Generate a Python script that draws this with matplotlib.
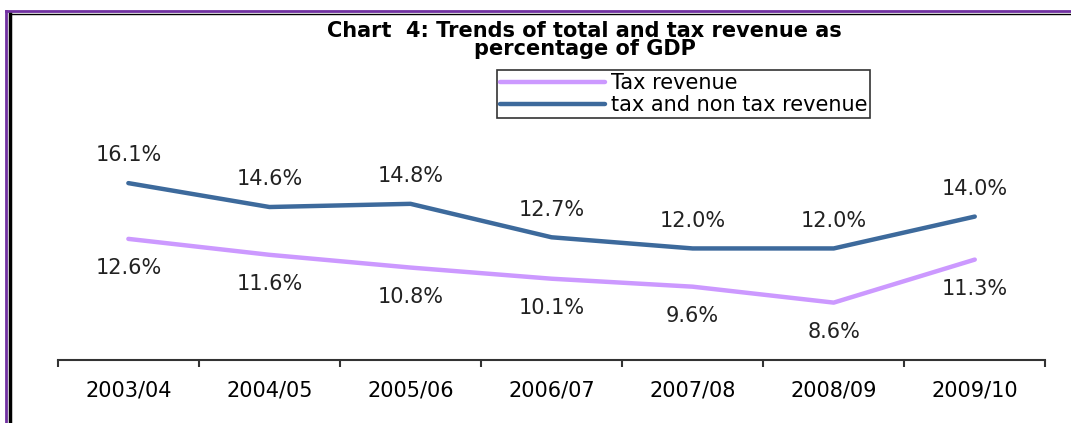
import numpy as np
import matplotlib.pyplot as plt
from matplotlib.lines import Line2D

# data
years = ["2003/04", "2004/05", "2005/06", "2006/07", "2007/08", "2008/09", "2009/10"]
tax_revenue = [12.6, 11.6, 10.8, 10.1, 9.6, 8.6, 11.3]
total_revenue = [16.1, 14.6, 14.8, 12.7, 12.0, 12.0, 14.0]

tax_color = "#CC99FF"
total_color = "#3D6A9C"

fig = plt.figure(figsize=(10.71, 4.23), dpi=100)
ax = fig.add_axes([0.054, 0.149, 0.922, 0.565])

x = np.arange(len(years))
ax.plot(x, tax_revenue, color=tax_color, lw=3.2, label="Tax revenue", solid_capstyle="round")
ax.plot(x, total_revenue, color=total_color, lw=3.2, label="tax and non tax revenue", solid_capstyle="round")

# value labels: total above, tax below
for xi, v in zip(x, total_revenue):
    ax.annotate(f"{v:.1f}%", (xi, v), xytext=(0, 20), textcoords="offset points",
                ha="center", va="center", fontsize=15, color="#222222")
for xi, v in zip(x, tax_revenue):
    ax.annotate(f"{v:.1f}%", (xi, v), xytext=(0, -21), textcoords="offset points",
                ha="center", va="center", fontsize=15, color="#222222")

ax.set_xlim(-0.5, len(years) - 0.5)
ax.set_ylim(5, 20)

# ticks at category boundaries, labels in the middle
ax.set_xticks(np.arange(-0.5, len(years), 1.0))
ax.set_xticklabels([])
ax.set_xticks(x, minor=True)
ax.set_xticklabels(years, minor=True, fontsize=15)
ax.tick_params(axis="x", which="major", direction="out", length=5, width=1.5, color="#333333")
ax.tick_params(axis="x", which="minor", length=0, pad=15)
ax.set_yticks([])

for side in ["top", "right", "left"]:
    ax.spines[side].set_visible(False)
ax.spines["bottom"].set_color("#333333")
ax.spines["bottom"].set_linewidth(1.5)

fig.text(0.546, 0.905, "Chart  4: Trends of total and tax revenue as\npercentage of GDP",
         ha="center", va="center", fontsize=15, fontweight="bold", linespacing=0.9)

leg = ax.legend(loc="upper left", bbox_to_anchor=(0.445, 1.213), fontsize=15,
                handlelength=5.0, handletextpad=0.3, labelspacing=0.1,
                borderpad=0.15, borderaxespad=0, fancybox=False, framealpha=1)
leg.get_frame().set_edgecolor("#333333")
leg.get_frame().set_linewidth(1.2)

# frame around the chart (top and left visible)
fig.add_artist(Line2D([0.006, 1.0], [0.973, 0.973], color="#7030A0", lw=2))
fig.add_artist(Line2D([0.006, 0.006], [0.0, 0.973], color="#7030A0", lw=2))
fig.add_artist(Line2D([0.009, 1.0], [0.968, 0.968], color="black", lw=1))
fig.add_artist(Line2D([0.009, 0.009], [0.0, 0.968], color="black", lw=2.5))

fig.savefig("out.png", dpi=100)
